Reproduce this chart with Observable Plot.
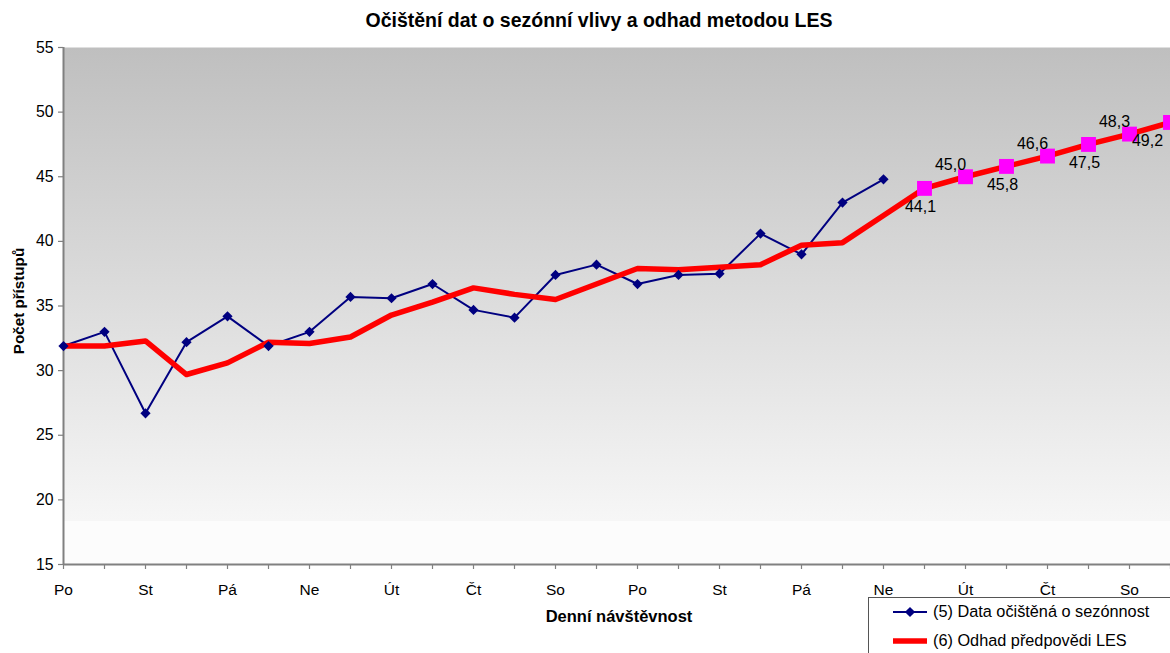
<!DOCTYPE html>
<html><head><meta charset="utf-8">
<script src="https://cdn.jsdelivr.net/npm/d3@7"></script>
<script src="https://cdn.jsdelivr.net/npm/@observablehq/plot@0.6"></script>
<style>
html,body{margin:0;padding:0;overflow:hidden;background:#fff;}
#wrap{position:relative;width:1170px;height:653px;overflow:hidden;}
#legend{position:absolute;left:868px;top:597px;width:400px;height:100px;border:1px solid #555;background:#fff;font:16.3px "Liberation Sans",Arial,sans-serif;color:#000;}
#legend .row{position:absolute;left:0;height:20px;white-space:nowrap;}
#legend svg{position:absolute;left:24px;top:0;}
#legend span{position:absolute;left:64px;top:0px;}
</style></head><body><div id="wrap"><div id="legend"></div></div>
<script>
const title = "Očištění dat o sezónní vlivy a odhad metodou LES";
const xTitle = "Denní návštěvnost";
const yTitle = "Počet přístupů";
const days = ["Po","Út","St","Čt","Pá","So","Ne","Po","Út","St","Čt","Pá","So","Ne",
              "Po","Út","St","Čt","Pá","So","Ne","Po","Út","St","Čt","Pá","So","Ne"];
const yTicks = [15,20,25,30,35,40,45,50,55];
const seriesNames = ["(5) Data očištěná o sezónnost","(6) Odhad předpovědi LES"];
const cleaned = [31.9,33.0,26.7,32.2,34.2,31.9,33.0,35.7,35.6,36.7,34.7,34.1,37.4,38.2,
                 36.7,37.4,37.5,40.6,39.0,43.0,44.8];
const forecastLES = [31.9,31.9,32.3,29.7,30.6,32.2,32.1,32.6,34.3,35.3,36.4,35.9,35.5,36.7,
                     37.9,37.8,38.0,38.2,39.7,39.9,42.0,44.1,45.0,45.8,46.6,47.5,48.3,49.2];

const n = days.length;
const idx = d3.range(n);
const blue = cleaned.map((v,i)=>({i,v}));
const red = forecastLES.map((v,i)=>({i,v}));
const labeled = red.filter(d => d.i >= cleaned.length);
const fmt = d => d.v.toFixed(1).replace(".", ",");
const lastI = n - 1;
const below = labeled.filter(d => (d.i - cleaned.length) % 2 === 0 && d.i !== lastI);
const above = labeled.filter(d => (d.i - cleaned.length) % 2 === 1);
const last = labeled.filter(d => d.i === lastI);
const FONT = '"Liberation Sans", Arial, sans-serif';

const plot = Plot.plot({
  width: 1170, height: 653,
  marginLeft: 63, marginRight: 0, marginTop: 47, marginBottom: 89,
  style: {fontFamily: FONT, fontSize: "15.5px", background: "transparent", color: "#000", overflow: "visible"},
  x: {domain: [0, n - 1], axis: null},
  y: {domain: [15, 55], axis: null},
  marks: [
    Plot.frame({fill: "url(#bgGrad)", stroke: null}),
    Plot.axisY({ticks: yTicks, tickSize: 5, tickPadding: 5, stroke: "#808080", strokeWidth: 1.2, label: null, fontSize: 15.8}),
    Plot.axisX({ticks: idx, tickSize: 5, tickFormat: () => "", stroke: "#808080", strokeWidth: 1.2, label: null}),
    Plot.axisX({ticks: idx.filter(i => i % 2 === 0), tickSize: 0, tickPadding: 19, tickFormat: i => days[i], label: null, fontSize: 15.5}),
    Plot.ruleX([0], {stroke: "#808080", strokeWidth: 2}),
    Plot.ruleY([15], {stroke: "#808080", strokeWidth: 2}),
    Plot.line(blue, {x: "i", y: "v", stroke: "#000080", strokeWidth: 2}),
    Plot.line(red, {x: "i", y: "v", stroke: "#ff0000", strokeWidth: 5.5}),
    Plot.dot(blue, {x: "i", y: "v", symbol: "diamond2", r: 4.6, fill: "#000080", stroke: null}),
    Plot.dot(labeled, {x: "i", y: "v", symbol: "square", r: 8.4, fill: "#ff00ff", stroke: null}),
    Plot.text(below, {x: "i", y: "v", text: fmt, dy: 18, dx: -4, fontSize: 16, fill: "#000"}),
    Plot.text(above, {x: "i", y: "v", text: fmt, dy: -12, dx: -15, fontSize: 16, fill: "#000"}),
    Plot.text(last, {x: "i", y: "v", text: fmt, dy: 18, dx: -23, fontSize: 16, fill: "#000"}),
    Plot.text([title], {frameAnchor: "top", lineAnchor: "middle", textAnchor: "middle", dy: -27, dx: -18, text: d => d, fontWeight: "bold", fontSize: 19.5, fill: "#000"}),
    Plot.text([yTitle], {frameAnchor: "left", lineAnchor: "middle", textAnchor: "middle", dx: -44, dy: -5, rotate: -90, text: d => d, fontWeight: "bold", fontSize: 15.2, fill: "#000"}),
    Plot.text([xTitle], {frameAnchor: "bottom", lineAnchor: "middle", textAnchor: "middle", dy: 52, dx: 2, text: d => d, fontWeight: "bold", fontSize: 16.5, fill: "#000"})
  ]
});

const svg = d3.select(plot);
const defs = svg.insert("defs", ":first-child");
const g = defs.append("linearGradient").attr("id", "bgGrad").attr("x1", 0).attr("y1", 0).attr("x2", 0).attr("y2", 1);
g.append("stop").attr("offset", "0").attr("stop-color", "#bfbfbf");
g.append("stop").attr("offset", "0.915").attr("stop-color", "#f6f6f6");
g.append("stop").attr("offset", "0.915").attr("stop-color", "#fcfcfc");
g.append("stop").attr("offset", "1").attr("stop-color", "#fcfcfc");

const wrap = document.getElementById("wrap");
wrap.insertBefore(plot, wrap.firstChild);

// legend
const legend = d3.select("#legend");
const r1 = legend.append("div").attr("class", "row").style("top", "4px");
const s1 = r1.append("svg").attr("width", 36).attr("height", 20);
s1.append("line").attr("x1", 0).attr("x2", 34).attr("y1", 10).attr("y2", 10).attr("stroke", "#000080").attr("stroke-width", 2);
s1.append("path").attr("d", d3.symbol(d3.symbolDiamond2, 4.6 * 4.6 * Math.PI)()).attr("transform", "translate(17,10)").attr("fill", "#000080");
r1.append("span").text(seriesNames[0]);
const r2 = legend.append("div").attr("class", "row").style("top", "33px");
const s2 = r2.append("svg").attr("width", 36).attr("height", 20);
s2.append("line").attr("x1", 0).attr("x2", 34).attr("y1", 10).attr("y2", 10).attr("stroke", "#ff0000").attr("stroke-width", 5.5);
r2.append("span").text(seriesNames[1]);
</script>
</body></html>
